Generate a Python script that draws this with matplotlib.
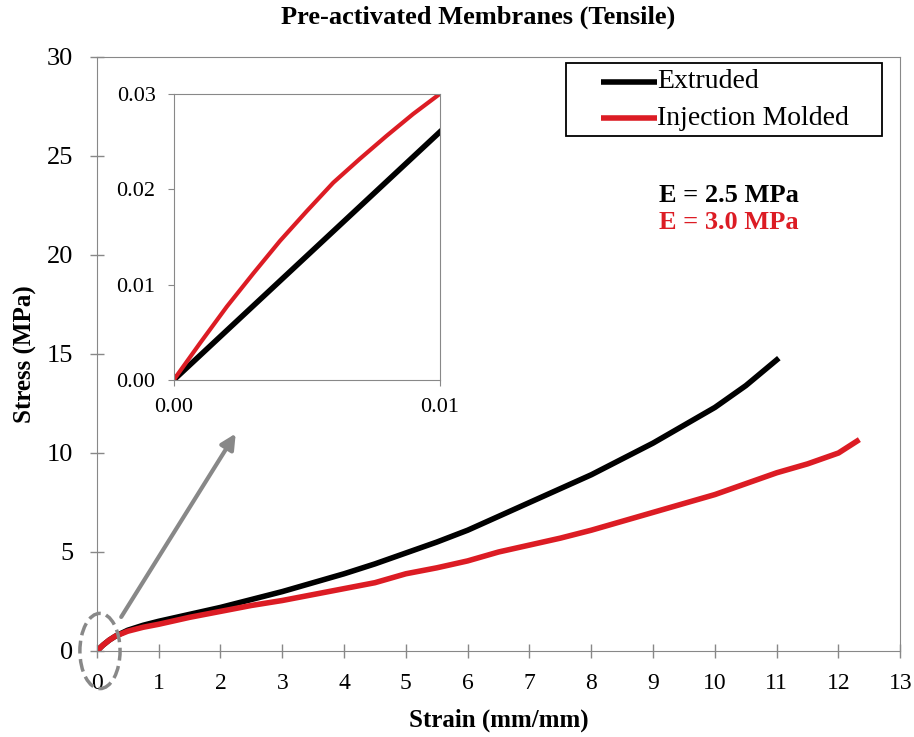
import numpy as np
import matplotlib
matplotlib.use('Agg')
import matplotlib.pyplot as plt
from matplotlib.patches import Ellipse, Rectangle
from matplotlib.ticker import FormatStrFormatter

plt.rcParams['font.family'] = ['Liberation Serif', 'DejaVu Serif']

# main curves
ext_strain = [0, 0.1, 0.2, 0.3, 0.5, 0.75, 1, 1.5, 2, 2.5, 3, 3.5, 4, 4.5, 5, 5.5,
              6, 6.5, 7, 7.5, 8, 8.5, 9, 9.5, 10, 10.5, 11]
ext_stress = [0, 0.3, 0.55, 0.75, 1.05, 1.3, 1.5, 1.85, 2.2, 2.6, 3.0, 3.45, 3.9, 4.4,
              4.95, 5.5, 6.1, 6.8, 7.5, 8.2, 8.9, 9.7, 10.5, 11.4, 12.3, 13.4, 14.7]
inj_strain = [0, 0.1, 0.2, 0.3, 0.5, 0.75, 1, 1.5, 2, 2.5, 3, 3.5, 4, 4.5, 5, 5.5,
              6, 6.5, 7, 7.5, 8, 8.5, 9, 9.5, 10, 10.5, 11, 11.5, 12, 12.3]
inj_stress = [0, 0.3, 0.55, 0.75, 1.0, 1.2, 1.35, 1.7, 2.0, 2.3, 2.55, 2.85, 3.15,
              3.45, 3.9, 4.2, 4.55, 5.0, 5.35, 5.7, 6.1, 6.55, 7.0, 7.45, 7.9, 8.45,
              9.0, 9.45, 10.0, 10.6]

# inset (small strain region)
ins_strain = [0, 0.001, 0.002, 0.003, 0.004, 0.005, 0.006, 0.007, 0.008, 0.009, 0.01]
ins_ext = [0, 0.0026, 0.0052, 0.0078, 0.0104, 0.013, 0.0156, 0.0182, 0.0208, 0.0234, 0.026]
ins_inj = [0, 0.0039, 0.0077, 0.0112, 0.0146, 0.0177, 0.0207, 0.0232, 0.0256, 0.0279, 0.030]

series_names = ['Extruded', 'Injection Molded']
moduli = ['E = 2.5 MPa', 'E = 3.0 MPa']

red = '#dc1c24'
grey = '#888888'
colors = ['black', red]

fig = plt.figure(figsize=(9.14, 7.37), dpi=100)
ax = fig.add_axes([0.106, 0.1167, 0.879, 0.806])
ax.plot(ext_strain, ext_stress, color=colors[0], lw=4)
ax.plot(inj_strain, inj_stress, color=colors[1], lw=4)
ax.set_xlim(0, 13)
ax.set_ylim(0, 30)
ax.set_xticks(range(0, 14))
ax.set_yticks(range(0, 31, 5))
ax.tick_params(labelsize=19, direction='inout', length=10, color=grey, width=1)
ax.tick_params(axis='x', pad=11, labelsize=17)
ax.tick_params(axis='y', pad=12)
for s in ax.spines.values():
    s.set_color(grey)
ax.set_xlabel('Strain (mm/mm)', fontsize=18, fontweight='bold', labelpad=10)
ax.set_ylabel('Stress (MPa)', fontsize=18, fontweight='bold', labelpad=7)
ax.set_title('Pre-activated Membranes (Tensile)', fontsize=19, fontweight='bold',
             pad=24, x=0.474)

# legend drawn by hand, Excel style
ax.add_patch(Rectangle((0.584, 0.867), 0.3935, 0.123, transform=ax.transAxes,
                       fill=False, edgecolor='black', lw=1.3, zorder=6))
for i, (name, c) in enumerate(zip(series_names, colors)):
    yy = 0.958 - i * 0.061
    ax.plot([0.6276, 0.6974], [yy, yy], color=c, lw=4, transform=ax.transAxes,
            clip_on=False, solid_capstyle='butt')
    ax.text(0.6974, yy, name, transform=ax.transAxes, fontsize=20,
            ha='left', va='center')

for i, (txt, c) in enumerate(zip(moduli, colors)):
    ax.text(0.787, 0.767 - i * 0.045, txt, transform=ax.transAxes, fontsize=19,
            fontweight='bold', ha='center', va='center', color=c)

# zoom marker
ax.add_patch(Ellipse((0.05, 0.0), 0.65, 3.8, fill=False, ls='--', lw=2.5,
                     edgecolor=grey, clip_on=False, zorder=5))
ax.annotate('', xy=(2.27, 11.1), xytext=(0.37, 1.6),
            arrowprops=dict(arrowstyle='-|>,head_length=0.9,head_width=0.45',
                            color=grey, lw=3))

ins = fig.add_axes([0.190, 0.4844, 0.291, 0.388])
ins.plot(ins_strain, ins_ext, color='black', lw=4)
ins.plot(ins_strain, ins_inj, color=red, lw=3)
ins.set_xlim(0, 0.01)
ins.set_ylim(0, 0.03)
ins.set_xticks([0, 0.01])
ins.set_yticks([0, 0.01, 0.02, 0.03])
ins.xaxis.set_major_formatter(FormatStrFormatter('%.2f'))
ins.yaxis.set_major_formatter(FormatStrFormatter('%.2f'))
ins.tick_params(labelsize=16, direction='out', length=4, color=grey)
ins.tick_params(axis='x', pad=9)
ins.tick_params(axis='y', pad=9)
for s in ins.spines.values():
    s.set_color(grey)

fig.savefig('out.png', dpi=100)
